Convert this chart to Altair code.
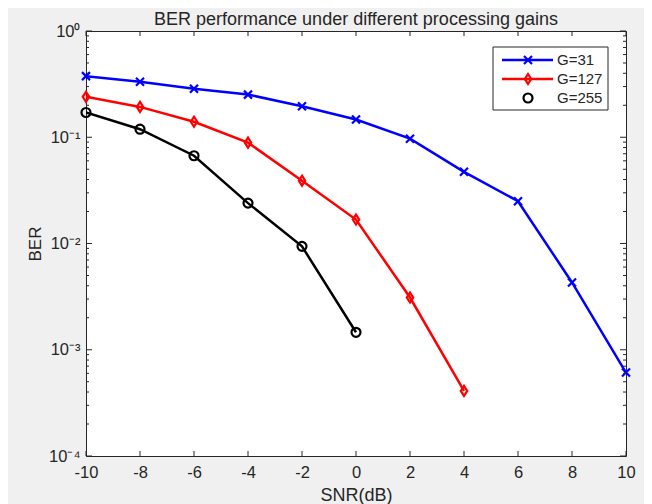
import altair as alt
import pandas as pd

# ---- data ----
snr_g31 = [-10, -8, -6, -4, -2, 0, 2, 4, 6, 8, 10]
ber_g31 = [0.376, 0.333, 0.286, 0.252, 0.196, 0.147, 0.097, 0.0473, 0.025, 0.0043, 0.00061]
snr_g127 = [-10, -8, -6, -4, -2, 0, 2, 4]
ber_g127 = [0.24, 0.193, 0.14, 0.089, 0.039, 0.0168, 0.0031, 0.00041]
snr_g255 = [-10, -8, -6, -4, -2, 0]
ber_g255 = [0.171, 0.119, 0.067, 0.024, 0.0094, 0.00146]
series_names = ["G=31", "G=127", "G=255"]
series_colors = ["#0000ff", "#ff0000", "#000000"]
title_text = "BER performance under different processing gains"

x_ticks = [-10, -8, -6, -4, -2, 0, 2, 4, 6, 8, 10]
y_major = [0.0001, 0.001, 0.01, 0.1, 1]
y_labels = ["10⁻⁴", "10⁻³", "10⁻²", "10⁻¹", "10⁰"]
y_minor = [m * 10.0 ** k for k in [-4, -3, -2, -1] for m in range(2, 10)]

W, H = 540, 425
FONT = "Liberation Sans"
TXT = "#262626"

rows = []
for name, xs, ys in zip(series_names, [snr_g31, snr_g127, snr_g255], [ber_g31, ber_g127, ber_g255]):
    for x, y in zip(xs, ys):
        rows.append({"snr": x, "ber": y, "series": name})
df = pd.DataFrame(rows)

xscale = alt.Scale(domain=[-10, 10], nice=False, zero=False)
yscale = alt.Scale(type="log", domain=[0.0001, 1], nice=False)
cscale = alt.Scale(domain=series_names, range=series_colors)

label_expr = " : ".join(
    [f"datum.value == {v} ? '{l}'" for v, l in zip(y_major, y_labels)]
) + " : ''"

xaxis = alt.Axis(title="SNR(dB)", values=x_ticks, ticks=False, domain=False,
                 grid=False, labelFontSize=16.5, labelFont=FONT, labelColor=TXT,
                 labelFlush=False, labelExpr="replace(datum.label, '\u2212', '-')",
                 labelPadding=8, titleFont=FONT, titleFontSize=18,
                 titleFontWeight="normal", titleColor=TXT,
                 titleX=W / 2, titleY=44, titleBaseline="alphabetic", titleAlign="center")
yaxis = alt.Axis(title="BER", values=y_major, labelExpr=label_expr, ticks=False,
                 domain=False, grid=False, labelFontSize=16.5, labelFont=FONT,
                 labelColor=TXT, labelPadding=6, labelFlush=False,
                 titleFont=FONT, titleFontSize=17,
                 titleFontWeight="normal", titleColor=TXT, titleAngle=270,
                 titleX=-51, titleY=H / 2, titleBaseline="middle", titleAlign="center")


def X(field):
    return alt.X(field, scale=xscale, axis=xaxis)


def Y(field):
    return alt.Y(field, scale=yscale, axis=yaxis)


lines = alt.Chart(df).mark_line(strokeWidth=2.5, clip=True).encode(
    x=X("snr:Q"), y=Y("ber:Q"),
    color=alt.Color("series:N", scale=cscale, legend=None),
    detail="series:N",
)

x_shape = "M-1,-1L1,1M1,-1L-1,1"
d_shape = "M0,-1.25L0.8,0L0,1.25L-0.8,0Z"


def markers(name, shape, size):
    return alt.Chart(df).transform_filter(alt.datum.series == name).mark_point(
        shape=shape, size=size, filled=False, strokeWidth=2.2, opacity=1
    ).encode(
        x=X("snr:Q"), y=Y("ber:Q"),
        color=alt.Color("series:N", scale=cscale, legend=None),
    )


pts = [markers(series_names[0], x_shape, 64),
       markers(series_names[1], d_shape, 64),
       markers(series_names[2], "circle", 81)]

# inward tick marks (box style)
xt = pd.DataFrame({"snr": x_ticks})
ymaj = pd.DataFrame({"ber": y_major})
ymin = pd.DataFrame({"ber": y_minor})
tick_layers = []
for y0, y1 in [(H, H - 5), (0, 5)]:
    tick_layers.append(alt.Chart(xt).mark_rule(color=TXT, strokeWidth=1).encode(
        x=X("snr:Q"), y=alt.value(y0), y2=alt.value(y1)))
for data, ln in [(ymaj, 6), (ymin, 3)]:
    for x0, x1 in [(0, ln), (W, W - ln)]:
        tick_layers.append(alt.Chart(data).mark_rule(color=TXT, strokeWidth=1).encode(
            y=Y("ber:Q"), x=alt.value(x0), x2=alt.value(x1)))

# manual legend box
one = pd.DataFrame({"a": [0]})
leg = [alt.Chart(one).mark_rect(fill="white", stroke=TXT, strokeWidth=1).encode(
    x=alt.value(407), x2=alt.value(522), y=alt.value(16), y2=alt.value(79))]
leg_rows = [29, 48, 67]
leg_shapes = [(x_shape, 64), (d_shape, 64), ("circle", 81)]
for i, name in enumerate(series_names):
    yy = leg_rows[i]
    if i < 2:
        leg.append(alt.Chart(one).mark_rule(color=series_colors[i], strokeWidth=2.5).encode(
            x=alt.value(416), x2=alt.value(467), y=alt.value(yy)))
    shp, sz = leg_shapes[i]
    leg.append(alt.Chart(one).mark_point(shape=shp, size=sz, filled=False, strokeWidth=2.2,
                                         color=series_colors[i], opacity=1).encode(
        x=alt.value(442), y=alt.value(yy)))
    leg.append(alt.Chart(one).mark_text(text=name, align="left", baseline="middle",
                                        font=FONT, fontSize=15, color=TXT).encode(
        x=alt.value(471), y=alt.value(yy)))

title = alt.Chart(one).mark_text(text=title_text, align="center", baseline="alphabetic",
                                 font=FONT, fontSize=18, color=TXT).encode(
    x=alt.value(W / 2), y=alt.value(-6))

chart = alt.layer(lines, *pts, *tick_layers, *leg, title).properties(
    width=W, height=H,
    autosize=alt.AutoSizeParams(type="none"),
    padding={"left": 78, "top": 23, "right": 18, "bottom": 48},
    background="#f0f0f0",
).configure_view(fill="white", stroke=TXT, strokeWidth=1)

chart.save("out.html", embed_options={"renderer": "svg", "actions": False})
